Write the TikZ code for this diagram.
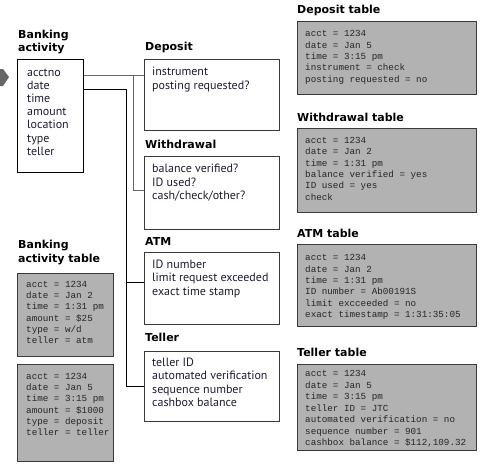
\documentclass[tikz,border=0pt]{standalone}
\usepackage{fontspec}
\setmainfont{PT Sans}
\setmonofont{Liberation Mono}
\newfontfamily\headfont{DejaVu Sans}

\definecolor{tablegray}{HTML}{B2B2B2}
\definecolor{edgegray}{HTML}{3A3A3A}
\definecolor{inkblue}{HTML}{1E1A33}
\definecolor{linkgray}{HTML}{666666}

\tikzset{
  heading/.style={anchor=base west, inner sep=0, align=left,
    font=\headfont\bfseries\fontsize{11}{13.6}\selectfont},
  fieldbox/.style={draw=edgegray, line width=1.3, anchor=north west, inner sep=0},
  fieldtext/.style={anchor=base west, inner sep=0, text=inkblue,
    font=\fontsize{12}{13.4}\selectfont},
  tablebox/.style={draw=edgegray, fill=tablegray, line width=1.3, anchor=north west, inner sep=0},
  tabletext/.style={anchor=base west, inner sep=0, text=black!85,
    font=\ttfamily\fontsize{9.25}{11.4}\selectfont},
  link/.style={line width=1}
}

\begin{document}
\begin{tikzpicture}[x=1pt,y=-1pt]
  \useasboundingbox (0,0) rectangle (497,466);

  % Pfeil am linken Rand
  \fill[linkgray] (0,69) -- (3,69) -- (9,77) -- (3,86) -- (0,86) -- cycle;

  % Banking activity
  \node[heading] (acthead) at (18,51.7) {Banking\\activity};
  \node[draw, line width=0.9, anchor=north west, inner sep=0,
        minimum width=66, minimum height=113] (act) at (17,59) {};
  \foreach \t [count=\i] in {acctno, date, time, amount, location, type, teller} {
    \pgfmathsetmacro\dy{17+13.2*(\i-1)}
    \node[fieldtext] (act-\i) at ([yshift=-\dy]act.north west) [xshift=10] {\t};
  }

  % Felder der Untertypen
  \node[heading] (dephead) at (145,50) {Deposit};
  \node[fieldbox, minimum width=135, minimum height=71] (dep) at (144,59) {};
  \foreach \t [count=\i] in {instrument, posting requested?} {
    \pgfmathsetmacro\dy{16.7+13.4*(\i-1)}
    \node[fieldtext] (dep-\i) at ([xshift=8,yshift=-\dy]dep.north west) {\t};
  }

  \node[heading] (wdhead) at (145,148.3) {Withdrawal};
  \node[fieldbox, minimum width=135, minimum height=73] (wd) at (144,156) {};
  \foreach \t [count=\i] in {balance verified?, ID used?, cash/check/other?} {
    \pgfmathsetmacro\dy{16.7+13.4*(\i-1)}
    \node[fieldtext] (wd-\i) at ([xshift=8,yshift=-\dy]wd.north west) {\t};
  }

  \node[heading] (atmhead) at (145,245) {ATM};
  \node[fieldbox, minimum width=135, minimum height=72] (atm) at (144,252) {};
  \foreach \t [count=\i] in {ID number, limit request exceeded, exact time stamp} {
    \pgfmathsetmacro\dy{16.3+13.4*(\i-1)}
    \node[fieldtext] (atm-\i) at ([xshift=8,yshift=-\dy]atm.north west) {\t};
  }

  \node[heading] (telhead) at (145,341.7) {Teller};
  \node[fieldbox, minimum width=135, minimum height=70] (tel) at (144,351) {};
  \foreach \t [count=\i] in {teller ID, automated verification, sequence number, cashbox balance} {
    \pgfmathsetmacro\dy{15.7+13.2*(\i-1)}
    \node[fieldtext] (tel-\i) at ([xshift=8,yshift=-\dy]tel.north west) {\t};
  }

  % Verbindungen
  \coordinate (j1) at (133,75);
  \coordinate (w1) at (133,190);
  \coordinate (j2) at (126,89);
  \coordinate (a1) at (126,282);
  \draw[link, linkgray] (act.east |- j1) -- (dep.west |- j1);
  \draw[link, linkgray] (j1) -- (w1) -- (w1 -| wd.west);
  \draw[link] (act.east |- j2) -- (j2) -- (j2 |- tel.west) -- (tel.west);
  \draw[link] (a1) -- (a1 -| atm.west);

  % Tabellen links
  \node[heading] (bathead) at (18,262.3) {Banking\\activity table};
  \node[tablebox, minimum width=96, minimum height=83] (bat1) at (17,273) {};
  \foreach \t [count=\i] in {acct = 1234, date = Jan 2, time = 1:31 pm, amount = \$25, type = w/d, teller = atm} {
    \pgfmathsetmacro\dy{14.3+11.3*(\i-1)}
    \node[tabletext] (bat1-\i) at ([xshift=9,yshift=-\dy]bat1.north west) {\t};
  }
  \node[tablebox, minimum width=96, minimum height=97] (bat2) at (17,364) {};
  \foreach \t [count=\i] in {acct = 1234, date = Jan 5, time = 3:15 pm, amount = \$1000, type = deposit, teller = teller} {
    \pgfmathsetmacro\dy{15.3+11.3*(\i-1)}
    \node[tabletext] (bat2-\i) at ([xshift=9,yshift=-\dy]bat2.north west) {\t};
  }

  % Tabellen rechts
  \node[heading] (dethead) at (297,13.3) {Deposit table};
  \node[tablebox, minimum width=179, minimum height=73] (det) at (297,21) {};
  \foreach \t [count=\i] in {acct = 1234, date = Jan 5, time = 3:15 pm, instrument = check, posting requested = no} {
    \pgfmathsetmacro\dy{15.7+11.4*(\i-1)}
    \node[tabletext] (det-\i) at ([xshift=8,yshift=-\dy]det.north west) {\t};
  }

  \node[heading] (wdthead) at (297,121) {Withdrawal table};
  \node[tablebox, minimum width=179, minimum height=84] (wdt) at (297,128) {};
  \foreach \t [count=\i] in {acct = 1234, date = Jan 2, time = 1:31 pm, balance verified = yes, ID used = yes, check} {
    \pgfmathsetmacro\dy{15.3+11.4*(\i-1)}
    \node[tabletext] (wdt-\i) at ([xshift=8,yshift=-\dy]wdt.north west) {\t};
  }

  \node[heading] (atmthead) at (297,237.3) {ATM table};
  \node[tablebox, minimum width=179, minimum height=82] (atmt) at (297,244) {};
  \foreach \t [count=\i] in {acct = 1234, date = Jan 2, time = 1:31 pm, ID number = Ab00191S, limit excceeded = no, exact timestamp = 1:31:35:05} {
    \pgfmathsetmacro\dy{16.7+11.4*(\i-1)}
    \node[tabletext] (atmt-\i) at ([xshift=8,yshift=-\dy]atmt.north west) {\t};
  }

  \node[heading] (telthead) at (297,356.7) {Teller table};
  \node[tablebox, minimum width=179, minimum height=86] (telt) at (297,364) {};
  \foreach \t [count=\i] in {acct = 1234, date = Jan 5, time = 3:15 pm, teller ID = JTC, automated verification = no, sequence number = 901, {cashbox balance = \$112,109.32}} {
    \pgfmathsetmacro\dy{12.7+11.5*(\i-1)}
    \node[tabletext] (telt-\i) at ([xshift=8,yshift=-\dy]telt.north west) {\t};
  }
\end{tikzpicture}
\end{document}
